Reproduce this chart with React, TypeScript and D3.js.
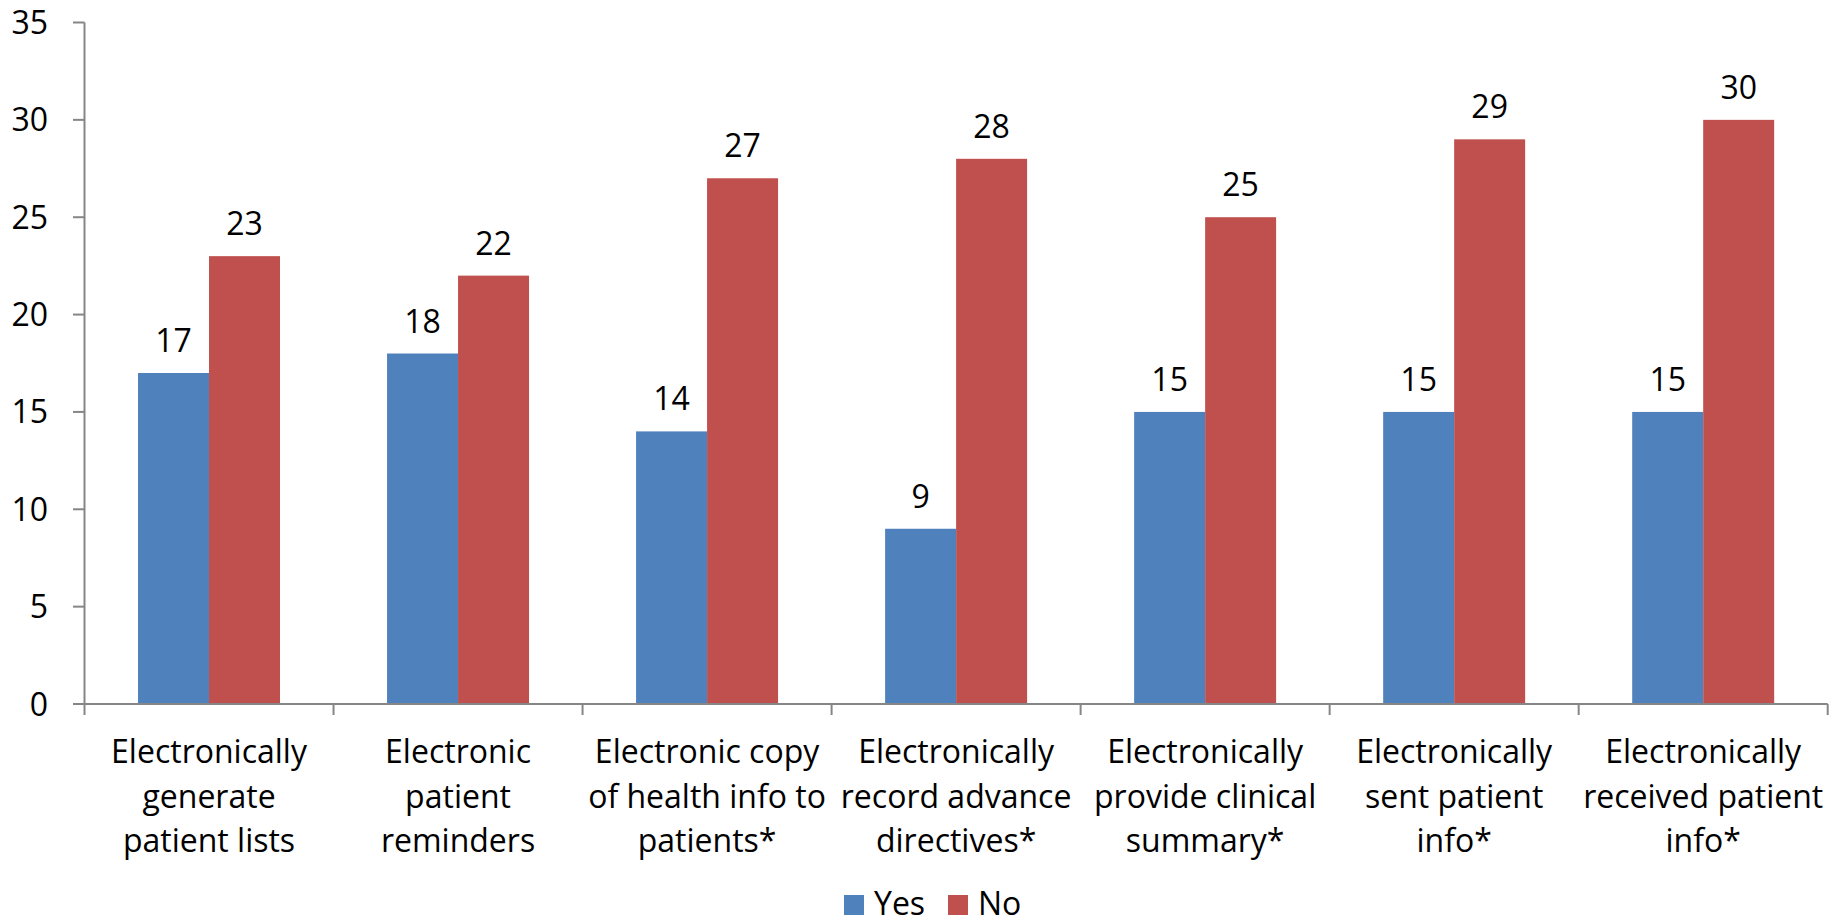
import React from "react";
import * as d3 from "d3";

const categories: string[][] = [
  ["Electronically", "generate", "patient lists"],
  ["Electronic", "patient", "reminders"],
  ["Electronic copy", "of health info to", "patients*"],
  ["Electronically", "record advance", "directives*"],
  ["Electronically", "provide clinical", "summary*"],
  ["Electronically", "sent patient", "info*"],
  ["Electronically", "received patient", "info*"],
];
const yesValues = [17, 18, 14, 9, 15, 15, 15];
const noValues = [23, 22, 27, 28, 25, 29, 30];
const seriesNames = ["Yes", "No"];
const seriesColors = ["#4F81BD", "#C0504D"];
const yTicks = [0, 5, 10, 15, 20, 25, 30, 35];

const W = 1841;
const H = 924;
const left = 84.5;
const right = 1827.7;
const top = 22.5;
const bottom = 704;
const FONT = "'Open Sans', 'Liberation Sans', sans-serif";

export default function App() {
  const keys = categories.map((_, i) => String(i));
  const x0 = d3.scaleBand<string>().domain(keys).range([left, right]).paddingInner(0).paddingOuter(0);
  const x1 = d3
    .scaleBand<string>()
    .domain(seriesNames)
    .range([0, x0.bandwidth()])
    .paddingInner(0)
    .paddingOuter(0.754);
  const y = d3.scaleLinear().domain([0, 35]).range([bottom, top]);
  const values = [yesValues, noValues];
  const axisColor = "#868686";

  const boundaries = keys.map((k) => x0(k)!).concat([right]);

  return (
    <svg
      width={W}
      height={H}
      style={{ position: "absolute", left: 0, top: 0, background: "#fff" }}
      fontFamily={FONT}
    >
      {/* bars */}
      {keys.map((k, i) =>
        seriesNames.map((s, si) => {
          const v = values[si][i];
          const bx = x0(k)! + x1(s)!;
          return (
            <rect
              key={k + s}
              x={bx}
              y={y(v)}
              width={x1.bandwidth()}
              height={bottom - y(v)}
              fill={seriesColors[si]}
            />
          );
        })
      )}

      {/* value labels */}
      {keys.map((k, i) =>
        seriesNames.map((s, si) => {
          const v = values[si][i];
          const cx = x0(k)! + x1(s)! + x1.bandwidth() / 2;
          return (
            <text
              key={"l" + k + s}
              x={cx}
              y={y(v) - 21}
              textAnchor="middle"
              fontSize={32}
              fill="#000"
            >
              {v}
            </text>
          );
        })
      )}

      {/* y axis */}
      <line x1={left} x2={left} y1={top} y2={bottom} stroke={axisColor} strokeWidth={2} />
      {yTicks.map((t) => (
        <g key={"yt" + t}>
          <line x1={73} x2={left} y1={y(t)} y2={y(t)} stroke={axisColor} strokeWidth={2} />
          <text x={48} y={y(t) + 11.5} textAnchor="end" fontSize={32} fill="#000">
            {t}
          </text>
        </g>
      ))}

      {/* x axis */}
      <line x1={left} x2={right} y1={bottom} y2={bottom} stroke={axisColor} strokeWidth={2} />
      {boundaries.map((bx, i) => (
        <line key={"xt" + i} x1={bx} x2={bx} y1={bottom} y2={715} stroke={axisColor} strokeWidth={2} />
      ))}

      {/* category labels */}
      {keys.map((k, i) => (
        <text
          key={"c" + k}
          x={x0(k)! + x0.bandwidth() / 2}
          y={763}
          textAnchor="middle"
          fontSize={32}
          fill="#000"
        >
          {categories[i].map((line, li) => (
            <tspan key={li} x={x0(k)! + x0.bandwidth() / 2} dy={li === 0 ? 0 : 44.5}>
              {line}
            </tspan>
          ))}
        </text>
      ))}

      {/* legend */}
      {seriesNames.map((s, si) => {
        const lx = [844, 948][si];
        return (
          <g key={"lg" + s}>
            <rect x={lx} y={895} width={20} height={20} fill={seriesColors[si]} />
            <text x={lx + 30} y={915} fontSize={32} fill="#000">
              {s}
            </text>
          </g>
        );
      })}
    </svg>
  );
}
